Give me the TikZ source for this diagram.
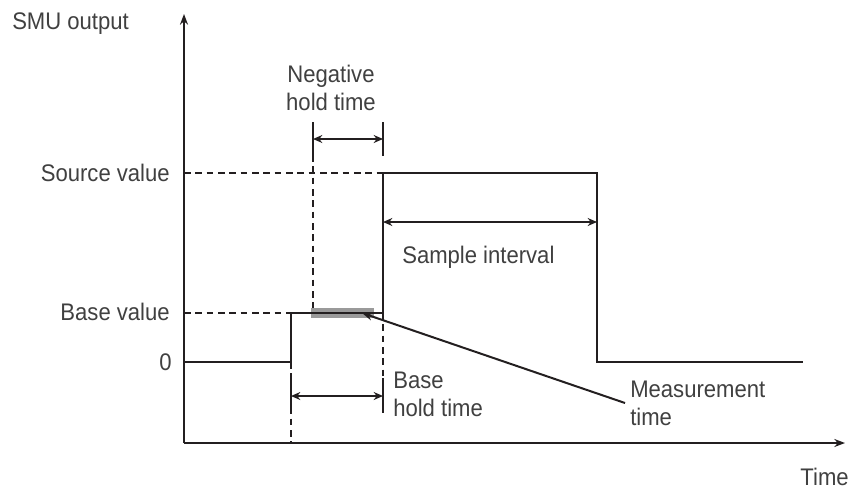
\documentclass[tikz,border=0pt]{standalone}
\usepackage{fontspec}
\setmainfont{Liberation Sans}[FakeStretch=0.92]
\usetikzlibrary{arrows.meta}
\definecolor{ink}{HTML}{231F20}
\definecolor{txt}{HTML}{404040}
\definecolor{barfill}{HTML}{9A9A9A}
\begin{document}
\begin{tikzpicture}[x=0.75pt,y=-0.75pt,
  line/.style={draw=ink,line width=1.5pt},
  guide/.style={draw=ink,line width=0.9pt,dash pattern=on 5pt off 3.5pt},
  tick/.style={draw=ink,line width=1.5pt},
  dim/.style={draw=ink,line width=1.5pt,{Stealth[length=7pt,width=6pt]}-{Stealth[length=7pt,width=6pt]}},
  lbl/.style={text=txt,font=\fontsize{18pt}{21pt}\selectfont,inner sep=0pt},
]
\useasboundingbox (0,0) rectangle (863,489);
% axes
\coordinate (o) at (184,443);
\coordinate (ytop) at (184,14);
\coordinate (xend) at (845,443);
\draw[line,-{Stealth[length=8pt,width=6pt]}] (o) -- (ytop);
\draw[line,-{Stealth[length=8pt,width=6pt]}] (o) -- (xend);
% pulse corners
\coordinate (p0) at (184,362);
\coordinate (p1) at (291,362);
\coordinate (p2) at (291,313);
\coordinate (p3) at (383,313);
\coordinate (p4) at (383,173);
\coordinate (p5) at (597,173);
\coordinate (p6) at (597,362);
\coordinate (p7) at (803,362);
% guide lines
\draw[guide] (184,173) -- (p4);
\draw[guide] (184,313) -- (p2);
\draw[guide] (313,155) -- (313,308);
\draw[guide] (p3) -- (383,378);
\draw[guide] (p1) -- (o -| p1);
% measurement bar
\node[fill=barfill,draw=none,minimum width=63*0.75pt,minimum height=10*0.75pt,inner sep=0pt,anchor=west] (bar) at (311,313) {};
% pulse
\draw[line,line join=miter] (p0) -- (p1) -- (p2) -- (p3) -- (p4) -- (p5) -- (p6) -- (p7);
% negative hold time
\coordinate (nt1a) at (313,122); \coordinate (nt1b) at (313,156);
\coordinate (nt2a) at (383,122); \coordinate (nt2b) at (383,156);
\draw[tick] (nt1a) -- (nt1b);
\draw[tick] (nt2a) -- (nt2b);
\draw[dim] (313,139) -- (383,139);
% base hold time
\coordinate (bt1a) at (291,378); \coordinate (bt1b) at (291,413);
\coordinate (bt2a) at (383,378); \coordinate (bt2b) at (383,413);
\draw[tick] (bt1a) -- (bt1b);
\draw[tick] (bt2a) -- (bt2b);
\draw[dim] (291,396) -- (383,396);
% sample interval
\draw[dim] (383,222) -- (597,222);
% labels (multi-line nodes: base anchor sits on the last line)
\node[lbl,anchor=base west] (smu) at (12,29) {SMU output};
\node[lbl,anchor=base east] (src) at (170,181) {Source value};
\node[lbl,anchor=base east] (base) at (170,320) {Base value};
\node[lbl,anchor=base east] (zero) at (172,370) {0};
\node[lbl,align=center,anchor=base] (neg) at (331,110) {Negative\\hold time};
\node[lbl,align=left,anchor=base west] (bht) at (393,416) {Base\\hold time};
\node[lbl,anchor=base west] (si) at (402,263) {Sample interval};
\node[lbl,align=left,anchor=base west] (mt) at (630,425) {Measurement\\time};
\node[lbl,anchor=base east] (time) at (849,485) {Time};
% pointer to the measurement bar
\coordinate (mtend) at (625,403);
\draw[line,-{Stealth[length=8pt,width=6pt]}] (mtend) -- (362,313);
\end{tikzpicture}
\end{document}
